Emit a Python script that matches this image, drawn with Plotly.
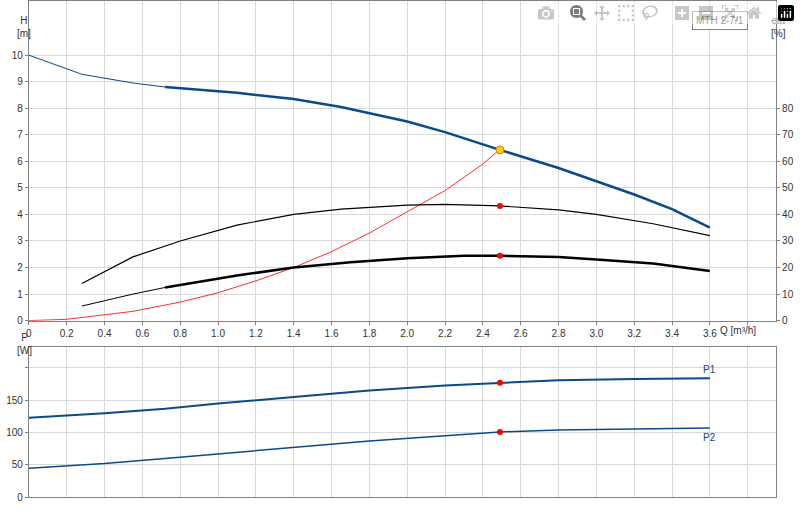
import plotly.graph_objects as go

q_h = [0, 0.28, 0.55, 0.72, 1.1, 1.4, 1.65, 2.0, 2.2, 2.49, 2.8, 3.0, 3.2, 3.4, 3.6]
h = [10, 9.28, 8.95, 8.8, 8.58, 8.35, 8.05, 7.5, 7.1, 6.43, 5.75, 5.25, 4.75, 4.2, 3.5]
q_e1 = [0.28, 0.55, 0.8, 1.1, 1.4, 1.65, 2.0, 2.2, 2.49, 2.8, 3.0, 3.3, 3.6]
eta1 = [14, 24, 30, 36, 40, 42, 43.5, 43.8, 43.2, 41.7, 40, 36.5, 32]
q_e2 = [0.28, 0.55, 0.72, 1.1, 1.4, 1.7, 2.0, 2.3, 2.49, 2.8, 3.0, 3.3, 3.6]
eta2 = [5.5, 10, 12.5, 17, 20, 22, 23.5, 24.4, 24.4, 24, 23, 21.5, 18.7]
q_sys = [0, 0.2, 0.55, 0.8, 1.0, 1.2, 1.4, 1.6, 1.8, 2.0, 2.2, 2.4, 2.49]
h_sys = [0, 0.05, 0.35, 0.7, 1.05, 1.5, 2.0, 2.6, 3.3, 4.1, 4.9, 5.9, 6.45]
q_p = [0, 0.4, 0.72, 1.0, 1.4, 1.8, 2.2, 2.49, 2.8, 3.2, 3.6]
p1 = [123, 130, 137, 145, 155, 165, 173, 177, 181, 183, 184]
p2 = [45, 52, 60, 67, 77, 87, 95, 101, 104, 106, 107]
q_op = 2.49
x_ticks = [round(0.2 * i, 1) for i in range(20)]
x_labels = [("%.1f" % v if v > 0 else "0") for v in x_ticks[:-1]] + [""]

BLUE = "#0b4a8a"
fig = go.Figure()
fig.add_trace(go.Scatter(x=q_h[:4], y=h[:4], mode="lines", line=dict(color=BLUE, width=1), xaxis="x", yaxis="y"))
fig.add_trace(go.Scatter(x=q_h[3:], y=h[3:], mode="lines", line=dict(color=BLUE, width=2.5), xaxis="x", yaxis="y"))
fig.add_trace(go.Scatter(x=q_sys, y=h_sys, mode="lines", line=dict(color="#ff3030", width=1), xaxis="x", yaxis="y"))
fig.add_trace(go.Scatter(x=q_e1, y=eta1, mode="lines", line=dict(color="black", width=1.2), xaxis="x", yaxis="y2"))
fig.add_trace(go.Scatter(x=q_e2[:3], y=eta2[:3], mode="lines", line=dict(color="black", width=1), xaxis="x", yaxis="y2"))
fig.add_trace(go.Scatter(x=q_e2[2:], y=eta2[2:], mode="lines", line=dict(color="black", width=2.5), xaxis="x", yaxis="y2"))
fig.add_trace(go.Scatter(x=[q_op, q_op], y=[eta1[8], eta2[8]], mode="markers", marker=dict(color="red", size=6), xaxis="x", yaxis="y2"))
fig.add_trace(go.Scatter(x=[q_op], y=[h[9]], mode="markers", marker=dict(color="#ffd700", size=8, line=dict(color="#ff6600", width=1)), xaxis="x", yaxis="y"))
fig.add_trace(go.Scatter(x=q_p, y=p1, mode="lines", line=dict(color=BLUE, width=2), xaxis="x2", yaxis="y3"))
fig.add_trace(go.Scatter(x=q_p, y=p2, mode="lines", line=dict(color=BLUE, width=1.5), xaxis="x2", yaxis="y3"))
fig.add_trace(go.Scatter(x=[q_op, q_op], y=[p1[7], p2[7]], mode="markers", marker=dict(color="red", size=6), xaxis="x2", yaxis="y3"))

ax = dict(showgrid=True, gridcolor="#d9d9d9", zeroline=False, showline=True, linecolor="#808080", mirror=True,
          tickfont=dict(size=10, color="#333"), ticks="outside", ticklen=3, tickcolor="#808080")
dom = [26 / 800, 776 / 800]
fig.update_layout(
    width=800, height=520, margin=dict(l=0, r=0, t=0, b=0), plot_bgcolor="white", paper_bgcolor="white",
    showlegend=False, font=dict(family="Liberation Sans", size=10, color="#333"),
    xaxis=dict(ax, domain=dom, range=[0, 3.95], tickvals=x_ticks, ticktext=x_labels, anchor="y"),
    yaxis=dict(ax, domain=[1 - 324 / 520, 1], range=[0, 12.04], tickvals=list(range(11)), anchor="x"),
    yaxis2=dict(ax, overlaying="y", side="right", range=[0, 120.4], tickvals=list(range(0, 90, 10)), showgrid=False, anchor="x"),
    xaxis2=dict(ax, domain=dom, range=[0, 3.95], tickvals=x_ticks, showticklabels=False, ticks="", anchor="y3"),
    yaxis3=dict(ax, domain=[1 - 503 / 520, 1 - 351 / 520], range=[0, 232], tickvals=[0, 50, 100, 150, 200],
                ticktext=["0", "50", "100", "150", ""], anchor="x2"),
)
ann = [
    dict(x=12, y=12, text="H<br>[m]"), dict(x=788, y=12, text="eta<br>[%]"),
    dict(x=758, y=334, text="Q [m³/h]"), dict(x=12, y=362, text="P<br>[W]"),
]
for a in ann:
    fig.add_annotation(x=a["x"] / 800, y=1 - a["y"] / 520, xref="paper", yref="paper", text=a["text"],
                       showarrow=False, font=dict(size=10, color="#333"), align="center")
fig.add_annotation(x=748 / 800, y=1 - 10 / 520, xref="paper", yref="paper", text="MTH 2-7/1", showarrow=False,
                   font=dict(size=10, color="#333"), bordercolor="#808080", borderwidth=1, borderpad=3, bgcolor="white")
fig.add_annotation(x=3.6, y=p1[-1], xref="x2", yref="y3", text="P1", showarrow=False, yshift=9, font=dict(size=10, color=BLUE))
fig.add_annotation(x=3.6, y=p2[-1], xref="x2", yref="y3", text="P2", showarrow=False, yshift=-9, font=dict(size=10, color=BLUE))
fig.write_html("out.html")

with open("out.html", encoding="utf-8") as f:
    html = f.read()
html = html.replace("<head>", "<head><style>html,body{margin:0;padding:0;overflow:hidden}</style>", 1)
with open("out.html", "w", encoding="utf-8") as f:
    f.write(html)
